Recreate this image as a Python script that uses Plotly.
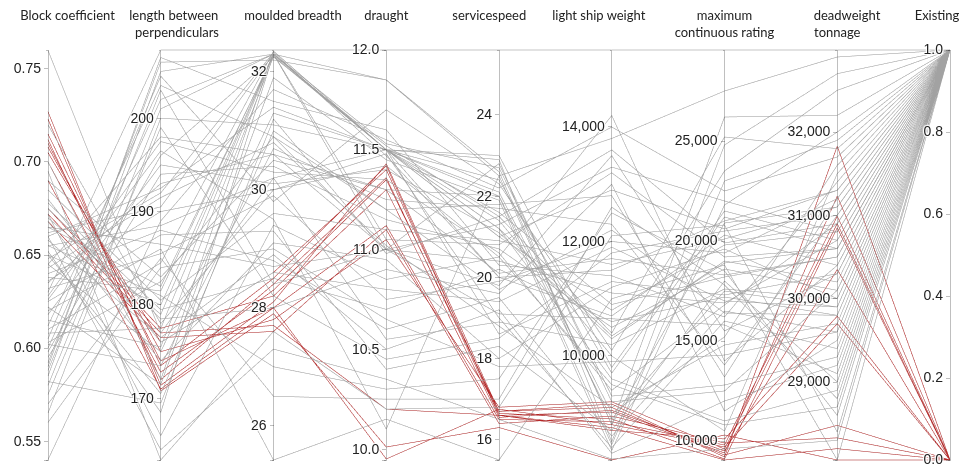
import plotly.graph_objects as go

# ---------------- data ----------------
# gray lines (Existing = 1)
block_g = [0.760, 0.585, 0.640, 0.700, 0.612, 0.655, 0.598, 0.672, 0.630, 0.690,
           0.575, 0.645, 0.662, 0.605, 0.720, 0.620, 0.650, 0.580, 0.678, 0.635,
           0.592, 0.668, 0.610, 0.695, 0.628, 0.540, 0.658, 0.600, 0.685, 0.643,
           0.570, 0.652, 0.618, 0.675, 0.590, 0.665, 0.625, 0.602, 0.648, 0.680,
           0.565, 0.638, 0.660, 0.595, 0.632, 0.670, 0.588, 0.622, 0.655, 0.608,
           0.560, 0.645, 0.615, 0.665, 0.582, 0.636, 0.650, 0.626, 0.603, 0.660]
lbp_g = [177.0, 205.0, 188.0, 172.0, 203.5, 181.0, 196.0, 166.0, 207.3, 183.0,
         199.0, 175.0, 190.5, 204.5, 178.0, 186.0, 170.5, 201.0, 179.5, 193.0,
         206.0, 174.0, 184.5, 163.4, 197.5, 189.0, 176.5, 202.0, 180.5, 191.5,
         185.0, 168.5, 195.0, 178.5, 206.5, 182.0, 187.5, 173.5, 192.0, 176.0,
         200.0, 181.5, 164.5, 194.0, 185.5, 179.0, 203.0, 171.5, 188.5, 177.5,
         184.0, 198.0, 175.5, 186.5, 169.5, 190.0, 180.0, 196.5, 182.5, 192.5]
breadth_g = [30.2, 32.30, 28.8, 32.35, 30.9, 27.0, 32.25, 29.4, 32.37, 30.5,
             28.2, 31.3, 32.30, 29.8, 30.0, 25.42, 31.0, 32.30, 28.5, 30.6,
             32.20, 29.1, 32.35, 27.6, 30.3, 31.7, 28.9, 32.30, 29.6, 30.8,
             26.5, 32.30, 30.1, 28.0, 31.5, 32.28, 29.3, 30.7, 32.33, 28.6,
             31.1, 32.30, 27.3, 30.4, 29.9, 32.30, 28.4, 31.9, 30.2, 32.30,
             29.0, 30.6, 32.26, 28.7, 31.2, 30.0, 32.30, 29.5, 30.9, 31.4]
draught_g = [11.50, 11.85, 10.60, 11.50, 11.00, 10.30, 11.52, 10.85, 12.00, 11.30,
             10.45, 11.50, 11.05, 11.70, 11.48, 10.15, 11.20, 11.50, 10.70, 11.00,
             11.85, 10.95, 11.50, 10.20, 11.35, 11.55, 10.50, 11.50, 11.10, 11.02,
             10.25, 11.50, 11.40, 10.90, 11.60, 11.50, 10.40, 11.25, 11.47, 10.80,
             11.50, 11.00, 10.35, 11.15, 10.75, 11.53, 11.00, 11.45, 10.55, 11.50,
             10.65, 11.30, 11.50, 11.00, 10.98, 11.42, 11.50, 10.10, 11.20, 11.50]
speed_g = [21.0, 22.5, 19.5, 20.0, 22.8, 17.5, 21.5, 20.5, 25.6, 22.0,
           18.5, 21.2, 20.8, 22.3, 19.0, 15.5, 21.8, 23.0, 20.2, 19.8,
           22.6, 18.0, 21.4, 16.8, 20.6, 22.2, 19.2, 21.6, 20.9, 18.8,
           17.0, 22.9, 21.1, 19.6, 20.3, 22.4, 18.3, 21.7, 20.0, 19.4,
           22.1, 21.3, 16.5, 20.7, 19.9, 22.7, 20.4, 21.9, 18.9, 21.0,
           17.8, 20.1, 22.0, 19.1, 21.5, 20.5, 18.6, 22.5, 19.7, 21.2]
lsw_g = [10800, 13800, 8600, 11500, 9200, 12500, 10400, 14200, 15345, 8900,
         11800, 9600, 13200, 10100, 8400, 11000, 12800, 9800, 10600, 13500,
         8800, 11200, 10000, 12100, 9400, 14000, 8300, 10900, 11600, 9100,
         12600, 8500, 10300, 13000, 11400, 9700, 8700, 12300, 10700, 11900,
         9000, 13300, 8200, 10500, 12000, 9300, 11100, 8350, 10200, 12900,
         9900, 11700, 8450, 10650, 13600, 9500, 11300, 8800, 12200, 10350]
mcr_g = [19800, 27500, 16500, 21000, 12500, 18500, 25200, 14000, 29550, 17500,
         20500, 11000, 19200, 23500, 16000, 18800, 13200, 21500, 17200, 15500,
         26200, 19600, 10500, 20800, 16800, 22500, 12000, 18200, 20100, 14800,
         17800, 24800, 19000, 11500, 16200, 21200, 18000, 13800, 20300, 17000,
         15200, 22000, 9600, 18600, 19400, 12800, 16900, 21800, 17600, 20600,
         14300, 18300, 23000, 15800, 19900, 10800, 17300, 20900, 16400, 18900]
dwt_g = [30800, 32900, 29600, 31300, 30100, 28600, 31800, 30400, 32984, 29900,
         31000, 28900, 30600, 32500, 29400, 28064, 31200, 30700, 29800, 30300,
         32200, 30000, 31500, 28400, 30900, 31700, 29200, 30500, 31100, 29700,
         28800, 32700, 30200, 29500, 31400, 30600, 29000, 31000, 30400, 29900,
         31600, 30800, 28300, 30100, 31200, 29300, 30700, 32000, 30000, 31300,
         29600, 30500, 31900, 29100, 30900, 28700, 30300, 31100, 29800, 30600]

# red lines (Existing = 0)
block_r = [0.727, 0.723, 0.712, 0.710, 0.708, 0.705, 0.675, 0.672, 0.690, 0.700, 0.668, 0.715]
lbp_r = [170.8, 171.4, 172.0, 174.0, 175.0, 176.0, 177.5, 177.0, 171.0, 172.8, 176.5, 173.5]
breadth_r = [27.9, 28.1, 28.4, 28.0, 27.8, 28.6, 28.2, 27.7, 28.0, 28.3, 27.6, 28.5]
draught_r = [10.01, 11.43, 11.36, 11.12, 11.05, 11.40, 11.30, 10.20, 9.95, 11.35, 11.10, 11.42]
speed_r = [16.3, 16.7, 16.6, 16.5, 16.8, 16.65, 16.55, 16.6, 16.75, 16.7, 16.4, 16.6]
lsw_r = [8183, 9160, 9020, 8850, 9200, 8900, 9050, 8700, 8800, 9100, 8950, 8750]
mcr_r = [10300, 9200, 9400, 9800, 9600, 9100, 9500, 10100, 9700, 9300, 9900, 9050]
dwt_r = [28064, 31830, 31230, 30990, 30900, 30850, 30350, 29790, 29700, 28480, 28330, 28200]

existing_g = [1.0] * len(block_g)
existing_r = [0.0] * len(block_r)

E = "\u2002"  # en space, used to nudge titles sideways
titles = [E * 6 + "Block coefficient",
          E * 4 + "length between<br>" + E * 5 + "perpendiculars",
          E * 6 + "moulded breadth",
          "draught",
          "servicespeed" + E * 3,
          "light ship weight" + E * 4,
          "maximum<br>continuous rating",
          E * 3 + "deadweight<br>tonnage",
          "Existing" + E * 4]

ranges = [[0.5398, 0.7602], [163.4, 207.3], [25.42, 32.37], [9.945, 12.0],
          [15.5, 25.6], [8183, 15345], [9050, 29550], [28064, 32984], [0, 1]]

tickvals = [[0.55, 0.60, 0.65, 0.70, 0.75], [170, 180, 190, 200], [26, 28, 30, 32],
            [10.0, 10.5, 11.0, 11.5, 12.0], [16, 18, 20, 22, 24], [10000, 12000, 14000],
            [10000, 15000, 20000, 25000], [29000, 30000, 31000, 32000],
            [0.0, 0.2, 0.4, 0.6, 0.8, 1.0]]
ticktext = [["0.55", "0.60", "0.65", "0.70", "0.75"], ["170", "180", "190", "200"],
            ["26", "28", "30", "32"], ["10.0", "10.5", "11.0", "11.5", "12.0"],
            ["16", "18", "20", "22", "24"], ["10,000", "12,000", "14,000"],
            ["10,000", "15,000", "20,000", "25,000"],
            ["29,000", "30,000", "31,000", "32,000"],
            ["0.0", "0.2", "0.4", "0.6", "0.8", "1.0"]]

# gray first, red drawn last
cols = [block_g + block_r, lbp_g + lbp_r, breadth_g + breadth_r, draught_g + draught_r,
        speed_g + speed_r, lsw_g + lsw_r, mcr_g + mcr_r, dwt_g + dwt_r,
        existing_g + existing_r]
color_vals = existing_g + existing_r

dims = []
for i in range(len(titles)):
    lo, hi = ranges[i]
    tv = list(tickvals[i])
    tt = list(ticktext[i])
    # invisible end ticks so the axis line spans the whole range
    if all(abs(v - lo) > 1e-9 for v in tv):
        tv = [lo] + tv
        tt = [""] + tt
    if all(abs(v - hi) > 1e-9 for v in tv):
        tv = tv + [hi]
        tt = tt + [""]
    dims.append(dict(label=titles[i], values=cols[i], range=ranges[i],
                     tickvals=tv, ticktext=tt))

fig = go.Figure(go.Parcoords(
    dimensions=dims,
    line=dict(color=color_vals,
              colorscale=[[0, "#b52626"], [1, "#a2a2a2"]],
              cmin=0, cmax=1, showscale=False),
    labelfont=dict(family="Lato", size=13, color="#222"),
    tickfont=dict(family="Liberation Sans", size=14, color="#222"),
    rangefont=dict(size=1, color="rgba(0,0,0,0)"),
    labelangle=0,
))
fig.update_layout(width=970, height=465, margin=dict(l=40, r=28, t=40, b=11),
                  paper_bgcolor="white", plot_bgcolor="white")
fig.write_html("out.html")
